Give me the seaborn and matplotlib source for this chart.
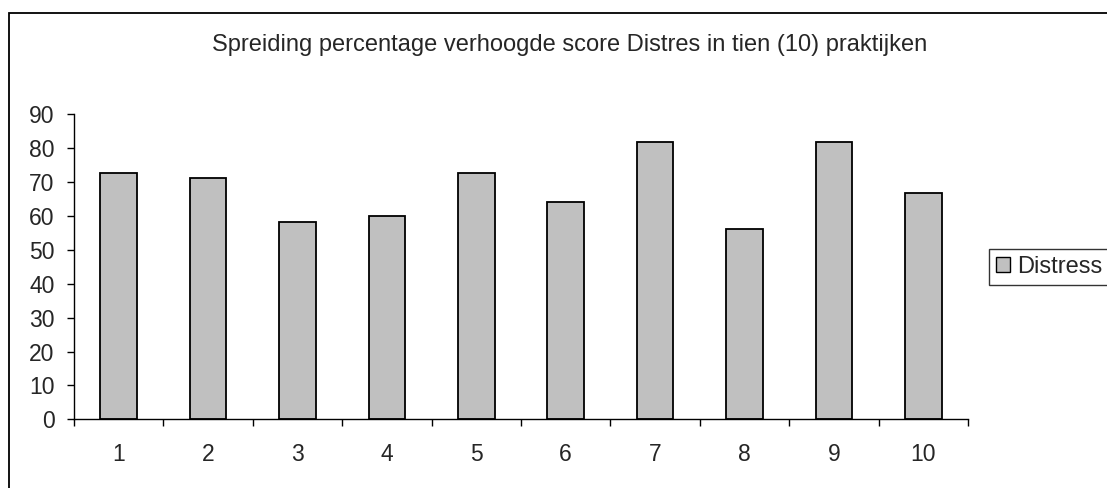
import numpy as np
import pandas as pd
import matplotlib
matplotlib.use("Agg")
import matplotlib.pyplot as plt
import matplotlib.patches as mpatches
import seaborn as sns

# data
praktijken = ['1', '2', '3', '4', '5', '6', '7', '8', '9', '10']
distress = [72.7, 71.3, 58.2, 60.0, 72.7, 64.2, 81.8, 56.1, 81.8, 66.7]
y_ticks = [0, 10, 20, 30, 40, 50, 60, 70, 80, 90]

title = 'Spreiding percentage verhoogde score Distres in tien (10) praktijken'
series_name = 'Distress'

df = pd.DataFrame({'praktijk': praktijken, 'pct': distress})

sns.set_style("white")
plt.rcParams['font.family'] = ['Liberation Sans', 'DejaVu Sans']

fig = plt.figure(figsize=(11.07, 4.88), dpi=100)
ax = fig.add_axes([0.0668, 0.1408, 0.8076, 0.625])

sns.barplot(data=df, x='praktijk', y='pct', color='#C0C0C0', saturation=1,
            width=0.41, edgecolor='black', linewidth=1.3, ax=ax)

ax.set_xlim(-0.5, len(praktijken) - 0.5)
ax.set_ylim(0, 90)
ax.set_yticks(y_ticks)
ax.set_xlabel('')
ax.set_ylabel('')

# category labels in the middle, tick marks between categories
ax.set_xticks(np.arange(-0.5, len(praktijken), 1.0), minor=True)
ax.tick_params(axis='x', which='major', length=0, pad=17, labelsize=16.5)
ax.tick_params(axis='x', which='minor', length=5, width=1, color='black',
               direction='out', bottom=True)
ax.tick_params(axis='y', length=5, width=1, color='black', direction='out',
               pad=9, labelsize=16.5, left=True)

for side in ['top', 'right']:
    ax.spines[side].set_visible(False)
for side in ['left', 'bottom']:
    ax.spines[side].set_color('black')
    ax.spines[side].set_linewidth(1)

fig.text(0.515, 0.908, title, ha='center', va='center', fontsize=17)

handle = mpatches.Patch(facecolor='#C0C0C0', edgecolor='black', linewidth=1)
leg = fig.legend([handle], [series_name], loc='center left',
                 bbox_to_anchor=(0.8934, 0.453), fontsize=17, frameon=True,
                 fancybox=False, handlelength=0.6, handleheight=0.6,
                 handletextpad=0.3, borderpad=0.3, borderaxespad=0)
leg.get_frame().set_edgecolor('black')
leg.get_frame().set_linewidth(1)

# outer chart border (cut off at right and bottom as in the reference)
border = mpatches.Rectangle((9 / 1107, -0.2), 1.5, 1.2 - 13 / 488,
                            transform=fig.transFigure, fill=False,
                            edgecolor='black', linewidth=1.3)
fig.patches.append(border)

fig.savefig('out.png', dpi=100)
